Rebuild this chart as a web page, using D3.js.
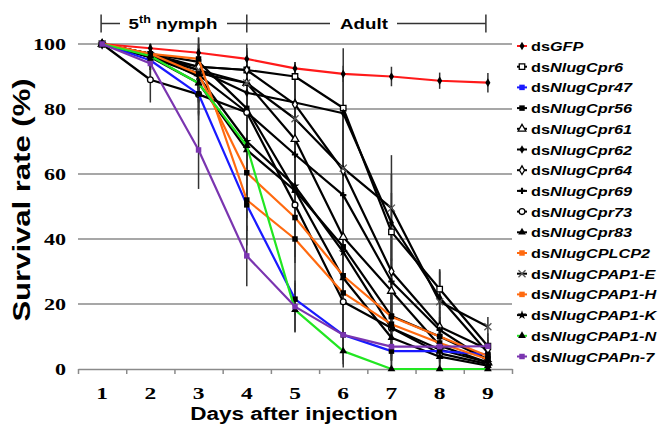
<!DOCTYPE html>
<html lang="en">
<head>
  <meta charset="UTF-8">
  <title>Survival rate after dsRNA injection</title>
  <script src="https://d3js.org/d3.v7.min.js"></script>
  <style>
    body { margin: 0; background: #fff; }
    svg { display: block; }
    .grid line { stroke: #8a8a8a; stroke-width: 1.5px; }
    .sans { font-family: Arial, "Liberation Sans", sans-serif; font-weight: bold; }
    .serif { font-family: "Times New Roman", "Liberation Serif", serif; font-weight: bold; }
  </style>
</head>
<body>
  <svg width="662" height="425"></svg>
  <script>
    const svg = d3.select("svg");

    // data
    const days = [1, 2, 3, 4, 5, 6, 7, 8, 9];
    const yTicks = [0, 20, 40, 60, 80, 100];
    const genes = ["GFP", "NlugCpr6", "NlugCpr47", "NlugCpr56", "NlugCpr61", "NlugCpr62",
      "NlugCpr64", "NlugCpr69", "NlugCpr73", "NlugCpr83", "NlugCPLCP2", "NlugCPAP1-E",
      "NlugCPAP1-H", "NlugCPAP1-K", "NlugCPAP1-N", "NlugCPAPn-7"];
    const survival = [
      [100, 98.7, 97.3, 95.4, 92.5, 90.8, 90.0, 88.7, 88.1],
      [100, 96, 93, 92, 90, 80.3, 42.2, 24.6, 7],
      [100, 95, 84.6, 50.5, 21.5, 10.5, 5.5, 5.5, 4.5],
      [100, 97, 94.5, 80.2, 55, 37.6, 16.3, 10, 3],
      [100, 96, 91, 88, 70.7, 40.6, 24, 7.2, 2],
      [100, 97, 92, 85, 82, 78.7, 45, 22, 5],
      [100, 97, 93, 92, 81.4, 61, 30, 13, 6],
      [100, 96, 90.5, 79, 66, 53.5, 26.9, 12, 2.5],
      [100, 89, 84.5, 78.9, 50.5, 20.7, 12.6, 4.8, 1.5],
      [100, 96, 88, 67.4, 54.9, 28, 9.6, 3.8, 1],
      [100, 97, 95.4, 52, 40, 23.4, 13.8, 8, 3],
      [100, 96, 92, 88, 77, 61.8, 49.5, 20.7, 13],
      [100, 97, 90.8, 60.4, 46.6, 28.7, 16.1, 10, 4],
      [100, 97, 90, 70, 56.3, 36, 12.6, 6, 2],
      [100, 96.3, 87.9, 68.7, 18.2, 5.5, 0, 0, 0],
      [100, 94, 67.4, 34.8, 19.2, 10.5, 6.9, 6.9, 7.0]
    ];
    const errors = [
      [0, 1.5, 1.5, 2, 2, 2.5, 3, 2.5, 3],
      [0, 3, 5, 6, 4.5, 10, 12, 6, 3],
      [0, 3, 6, 8, 5, 4, 3, 3, 2],
      [0, 3, 8, 10, 12, 15, 10, 6, 2],
      [0, 3, 9, 12, 15, 15, 10, 5, 2],
      [0, 2, 6, 10, 12, 20, 15, 8, 3],
      [0, 3, 7, 6.8, 10, 18, 15, 6, 3],
      [0, 4, 8, 12, 15, 20, 14, 6, 2],
      [0, 7, 8, 14, 16, 18, 10, 4, 1],
      [0, 4, 10, 15, 16, 18, 9, 3, 1],
      [0, 3, 10, 14, 15, 15, 10, 5, 2],
      [0, 3, 6, 8, 12, 15, 16.3, 10, 3],
      [0, 3, 8, 14, 14, 15, 12, 6, 2],
      [0, 3, 8, 12, 14, 16, 10, 5, 2],
      [0, 3, 8, 10, 6.7, 5, 0, 0, 0],
      [0, 5, 12, 9.3, 8, 9, 6, 5, 4]
    ];

    // styles
    const lineColors = ["#ff1a1a", "#000", "#1a1aff", "#000", "#000", "#000", "#000", "#000",
      "#000", "#000", "#ff6a10", "#000", "#ff6a10", "#000", "#22e622", "#7a35b0"];
    const shapes = ["diamond", "square", "square", "square", "triangle", "diamond", "diamond", "cross",
      "circle", "triangle", "square", "x", "square", "star", "triangle", "square"];
    const hollow = [false, true, false, false, true, false, true, false,
      true, false, false, true, false, false, false, false];

    const SX = 1.38; // the reference is stretched horizontally
    const x = d3.scaleLinear().domain([0.5, 9.5]).range([78, 512]);
    const y = d3.scaleLinear().domain([0, 100]).range([369, 44]);

    const symbolType = {
      diamond: d3.symbolDiamond, square: d3.symbolSquare, triangle: d3.symbolTriangle,
      cross: d3.symbolCross, circle: d3.symbolCircle, x: d3.symbolX, star: d3.symbolStar
    };
    const symbolSize = { diamond: 22, square: 30, triangle: 26, cross: 22, circle: 26, x: 34, star: 26 };

    // grid
    svg.append("g").attr("class", "grid")
      .selectAll("line").data(yTicks.filter(d => d > 0)).enter().append("line")
      .attr("x1", x(0.5)).attr("x2", x(9.5))
      .attr("y1", d => y(d)).attr("y2", d => y(d));

    // x axis
    const xAxis = svg.append("g").attr("transform", `translate(0,${y(0)})`)
      .call(d3.axisBottom(x).tickValues(d3.range(0.5, 10, 1)).tickFormat("").tickSize(5).tickSizeOuter(0));
    xAxis.selectAll("path, line").attr("stroke", "#8a8a8a").attr("stroke-width", 1.5);

    svg.append("g").selectAll("text").data(days).enter().append("text")
      .attr("class", "serif")
      .attr("transform", d => `translate(${x(d)},399) scale(${SX},1)`)
      .attr("text-anchor", "middle").attr("font-size", 17)
      .text(d => d);

    // y axis labels
    const yAxis = svg.append("g").attr("transform", "translate(66,0)")
      .call(d3.axisLeft(y).tickValues(yTicks).tickSize(0));
    yAxis.select(".domain").remove();
    yAxis.selectAll("text").attr("class", "serif").attr("font-size", 16).attr("fill", "#000")
      .attr("x", 0).attr("dy", null)
      .attr("transform", `translate(0,5.5) scale(${SX},1)`);

    // axis titles
    svg.append("text").attr("class", "sans")
      .attr("transform", `translate(294,420) scale(1.25,1)`)
      .attr("text-anchor", "middle").attr("font-size", 18)
      .text("Days after injection");
    svg.append("text").attr("class", "sans")
      .attr("transform", `translate(30,200) rotate(-90) scale(1.35,1)`)
      .attr("text-anchor", "middle").attr("font-size", 23)
      .text("Survival rate (%)");

    // stage header
    const hy = 23.5;
    const header = svg.append("g").attr("stroke", "#333").attr("stroke-width", 1.5);
    [[x(1) - 1, 120], [227, 330], [397, x(9) - 2]].forEach(s => {
      header.append("line").attr("x1", s[0]).attr("x2", s[1]).attr("y1", hy).attr("y2", hy);
    });
    [x(1) - 1, x(4), x(9) - 2].forEach(v => {
      header.append("line").attr("x1", v).attr("x2", v).attr("y1", hy - 9).attr("y2", hy + 9);
    });
    const nym = svg.append("text").attr("class", "sans").attr("font-size", 15)
      .attr("transform", `translate(173,29) scale(1.25,1)`).attr("text-anchor", "middle");
    nym.append("tspan").text("5");
    nym.append("tspan").attr("font-size", 10).attr("dy", -6).text("th");
    nym.append("tspan").attr("dy", 6).text(" nymph");
    svg.append("text").attr("class", "sans").attr("font-size", 15)
      .attr("transform", `translate(364,29) scale(1.25,1)`).attr("text-anchor", "middle")
      .text("Adult");

    // error bars
    const eb = svg.append("g").attr("stroke", "#333").attr("stroke-width", 1.5);
    survival.forEach((vals, i) => {
      vals.forEach((v, j) => {
        const e = errors[i][j];
        if (e > 0) {
          eb.append("line").attr("x1", x(days[j])).attr("x2", x(days[j]))
            .attr("y1", y(Math.min(102, v + e))).attr("y2", y(Math.max(0, v - e)));
        }
      });
    });

    // series lines: black ones first, coloured ones on top
    const order = d3.range(genes.length).sort((a, b) =>
      (lineColors[a] === "#000" ? 0 : 1) - (lineColors[b] === "#000" ? 0 : 1));
    const line = d3.line().x((d, j) => x(days[j])).y(d => y(d));

    const drawMarker = (g, i, px, py, fill) => {
      const s = shapes[i];
      const p = g.append("path")
        .attr("d", d3.symbol().type(symbolType[s]).size(symbolSize[s])())
        .attr("transform", `translate(${px},${py})`);
      if (s === "x") p.attr("fill", "none").attr("stroke", "#555").attr("stroke-width", 1.3);
      else if (hollow[i]) p.attr("fill", "#fff").attr("stroke", "#000").attr("stroke-width", 1.3);
      else p.attr("fill", fill);
    };

    order.forEach(i => {
      const g = svg.append("g");
      g.append("path").datum(survival[i]).attr("d", line)
        .attr("fill", "none").attr("stroke", lineColors[i]).attr("stroke-width", 2.2)
        .attr("stroke-linejoin", "round");
      const mFill = i === 15 ? lineColors[i] : "#000";
      survival[i].forEach((v, j) => drawMarker(g, i, x(days[j]), y(v), mFill));
    });

    // legend
    const leg = svg.append("g");
    genes.forEach((name, i) => {
      const ly = 46 + i * 20.7;
      leg.append("line").attr("x1", 517).attr("x2", 527).attr("y1", ly).attr("y2", ly)
        .attr("stroke", lineColors[i]).attr("stroke-width", 2);
      const mFill = lineColors[i] === "#000" || i === 0 || i === 14 ? "#000" : lineColors[i];
      drawMarker(leg, i, 522, ly, mFill);
      const t = leg.append("text").attr("class", "sans").attr("font-size", 13)
        .attr("transform", `translate(531,${ly + 5}) scale(1.25,1)`);
      t.append("tspan").text("ds");
      t.append("tspan").attr("font-style", "italic").text(name);
    });
  </script>
</body>
</html>
